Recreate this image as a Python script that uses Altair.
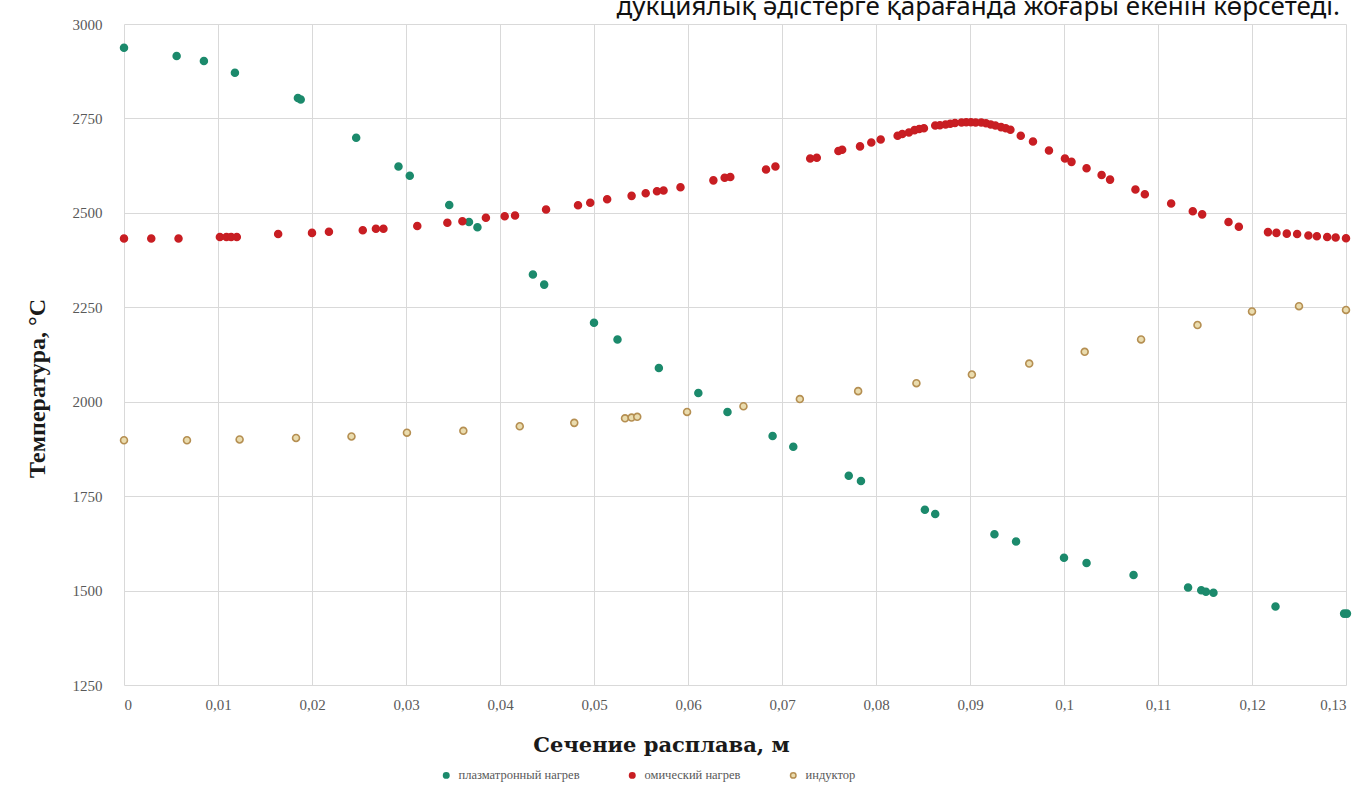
import altair as alt
import pandas as pd

# Temperature across the melt section for three heating methods
plasma_x = [0.0, 0.0056, 0.0085, 0.0118, 0.0185, 0.0188, 0.0247, 0.0292, 0.0304, 0.0346,
            0.0367, 0.0376, 0.0435, 0.0447, 0.0500, 0.0525, 0.0569, 0.0611, 0.0642, 0.0690,
            0.0712, 0.0771, 0.0784, 0.0852, 0.0863, 0.0926, 0.0949, 0.1000, 0.1024, 0.1074,
            0.1132, 0.1146, 0.1151, 0.1159, 0.1225, 0.1298, 0.1301]
plasma_t = [2937, 2915, 2902, 2871, 2804, 2800, 2699, 2623, 2598, 2521,
            2476, 2462, 2337, 2310, 2209, 2165, 2089, 2023, 1973, 1909,
            1881, 1804, 1790, 1714, 1703, 1649, 1630, 1587, 1573, 1541,
            1508, 1501, 1497, 1494, 1458, 1439, 1439]

ohmic_x = [0.0, 0.0029, 0.0058, 0.0102, 0.0109, 0.0114, 0.0120, 0.0164, 0.0200, 0.0218,
           0.0254, 0.0268, 0.0276, 0.0312, 0.0344, 0.0360, 0.0385, 0.0405, 0.0416, 0.0449,
           0.0483, 0.0496, 0.0514, 0.0540, 0.0555, 0.0567, 0.0574, 0.0592, 0.0627, 0.0639,
           0.0645, 0.0683, 0.0693, 0.0730, 0.0737, 0.0760, 0.0764, 0.0783, 0.0795, 0.0805,
           0.0823, 0.0828, 0.0835, 0.0841, 0.0846, 0.0851, 0.0863, 0.0868, 0.0874, 0.0879,
           0.0884, 0.0891, 0.0896, 0.0901, 0.0906, 0.0912, 0.0917, 0.0922, 0.0927, 0.0933,
           0.0938, 0.0943, 0.0954, 0.0967, 0.0984, 0.1001, 0.1008, 0.1024, 0.1040, 0.1049,
           0.1076, 0.1086, 0.1114, 0.1137, 0.1147, 0.1175, 0.1186, 0.1217, 0.1226, 0.1237,
           0.1248, 0.1260, 0.1269, 0.1280, 0.1289, 0.1300]
ohmic_t = [2432, 2432, 2432, 2436, 2436, 2436, 2436, 2444, 2447, 2450,
           2454, 2458, 2458, 2465, 2474, 2478, 2487, 2491, 2493, 2509,
           2520, 2527, 2536, 2545, 2552, 2557, 2559, 2568, 2586, 2593,
           2595, 2615, 2623, 2644, 2646, 2664, 2667, 2676, 2686, 2694,
           2704, 2709, 2713, 2719, 2722, 2724, 2731, 2732, 2734, 2736,
           2738, 2739, 2740, 2740, 2739, 2739, 2737, 2734, 2731, 2727,
           2724, 2720, 2704, 2689, 2665, 2644, 2635, 2618, 2600, 2588,
           2562, 2549, 2525, 2504, 2496, 2476, 2463, 2449, 2447, 2445,
           2444, 2440, 2438, 2436, 2435, 2433]

inductor_x = [0.0, 0.0067, 0.0123, 0.0183, 0.0242, 0.0301, 0.0361, 0.0421, 0.0479, 0.0533,
              0.0540, 0.0546, 0.0599, 0.0659, 0.0719, 0.0781, 0.0843, 0.0902, 0.0963, 0.1022,
              0.1082, 0.1142, 0.1200, 0.1250, 0.1300]
inductor_t = [1898, 1898, 1900, 1904, 1908, 1918, 1923, 1935, 1944, 1956,
              1958, 1960, 1973, 1988, 2007, 2028, 2049, 2072, 2101, 2132,
              2165, 2203, 2239, 2253, 2243]

series_names = ["плазматронный нагрев", "омический нагрев", "индуктор"]
fill_colors = ["#1c8a6c", "#c81e23", "#eadcae"]
stroke_colors = ["#1c8a6c", "#c81e23", "#b58f52"]

x_ticks = [0, 0.01, 0.02, 0.03, 0.04, 0.05, 0.06, 0.07, 0.08, 0.09, 0.10, 0.11, 0.12, 0.13]
y_ticks = [1250, 1500, 1750, 2000, 2250, 2500, 2750, 3000]

top_line = "дукциялық әдістерге қарағанда жоғары екенін көрсетеді."

frames = []
for name, xs, ts in zip(series_names,
                        [plasma_x, ohmic_x, inductor_x],
                        [plasma_t, ohmic_t, inductor_t]):
    frames.append(pd.DataFrame({"section": xs, "temp": ts, "series": name}))
df = pd.concat(frames, ignore_index=True)

label_font = "Liberation Serif"

legend_style = dict(
    title=None,
    orient="none",
    direction="horizontal",
    legendX=316,
    legendY=745,
    symbolSize=30,
    symbolStrokeWidth=1.5,
    labelFont=label_font,
    labelFontSize=12.5,
    labelColor="#595959",
    columnPadding=46,
    labelOffset=6,
)

points = alt.Chart(df).mark_circle(size=48, strokeWidth=1.6, opacity=1).encode(
    x=alt.X(
        "section:Q",
        scale=alt.Scale(domain=[0, 0.13], nice=False, zero=False),
        axis=alt.Axis(
            values=x_ticks,
            labelExpr="replace(format(datum.value, '.2~f'), '.', ',')",
            title="Сечение расплава, м",
            titleFont="DejaVu Serif",
            titleFontSize=21,
            titleX=537,
            titleY=49,
            titleAlign="center",
            titleBaseline="top",
            labelPadding=12,
        ),
    ),
    y=alt.Y(
        "temp:Q",
        scale=alt.Scale(domain=[1250, 3000], nice=False, zero=False),
        axis=alt.Axis(
            values=y_ticks,
            format="d",
            title="Температура, °С",
            titleFont=label_font,
            titleFontSize=24,
            titleX=-80,
            titleY=364,
            titleAlign="center",
            titleBaseline="alphabetic",
            labelPadding=22,
        ),
    ),
    color=alt.Color(
        "series:N",
        scale=alt.Scale(domain=series_names, range=fill_colors),
        legend=alt.Legend(**legend_style),
    ),
    stroke=alt.Stroke(
        "series:N",
        scale=alt.Scale(domain=series_names, range=stroke_colors),
        legend=alt.Legend(**legend_style),
    ),
)

caption = alt.Chart(pd.DataFrame({"t": [top_line]})).mark_text(
    align="right",
    baseline="alphabetic",
    font="Noto Sans",
    fontSize=26,
    color="#111111",
).encode(
    text="t:N",
    x=alt.value(1216),
    y=alt.value(-9),
)

chart = alt.layer(points, caption).properties(
    width=1222,
    height=661,
    autosize=alt.AutoSizeParams(type="none"),
    padding={"left": 124, "top": 24, "right": 14, "bottom": 101},
    background="white",
).configure_view(
    stroke=None,
).configure_axis(
    domain=False,
    ticks=False,
    grid=True,
    gridColor="#d9d9d9",
    gridWidth=1,
    labelFont=label_font,
    labelFontSize=15,
    labelColor="#595959",
    titleFontWeight="bold",
    titleColor="#1a1a1a",
)

chart.save("out.html", embed_options={"renderer": "svg", "actions": False})
